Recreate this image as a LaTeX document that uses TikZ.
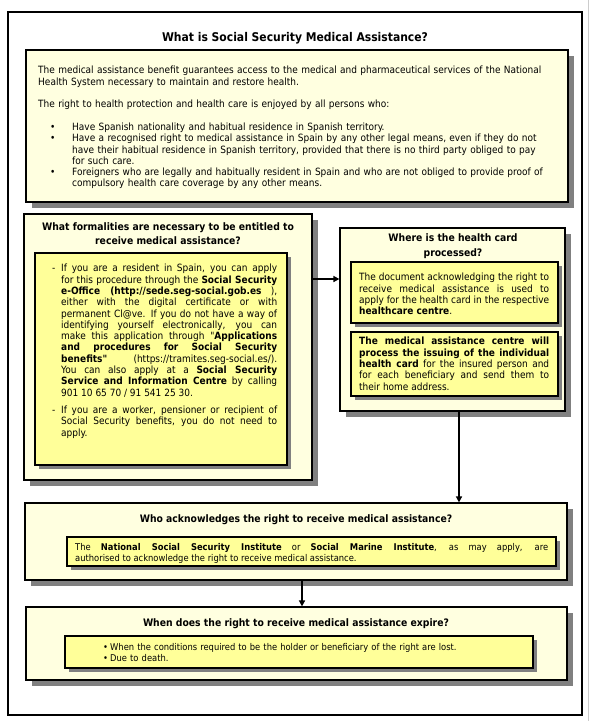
\documentclass[tikz,border=0pt]{standalone}
\usepackage{fontspec}
\setmainfont{DejaVu Sans Condensed}
\usetikzlibrary{arrows.meta,positioning,fit,shadows}
\definecolor{cream}{HTML}{FFFFE0}
\definecolor{lemon}{HTML}{FFFF99}
\definecolor{shade}{HTML}{808080}
\newcommand{\markhang}[2]{\hangindent=#1\hangafter=1\noindent\makebox[#1][l]{#2}}
\tikzset{
  outerbox/.style={rectangle, draw=black, fill=cream, line width=1.2pt,
    inner sep=0pt,
    drop shadow={shadow xshift=6pt, shadow yshift=-6pt, fill=shade, opacity=1}},
  innerbox/.style={rectangle, draw=black, fill=lemon, line width=1.2pt,
    inner sep=0pt,
    drop shadow={shadow xshift=4pt, shadow yshift=-4pt, fill=shade, opacity=1}},
  headtext/.style={font=\fontsize{10.3}{14.5}\selectfont\bfseries,
    align=center, inner sep=0pt},
  bodytext/.style={font=\fontsize{10}{11.3}\selectfont, inner sep=0pt,
    anchor=north west, text width=#1, align=justify},
  bodytext/.default=200pt,
  smalltext/.style={font=\fontsize{9.3}{11}\selectfont, inner sep=0pt,
    anchor=north west, text width=#1, align=justify},
  flowarrow/.style={-{Triangle[length=6pt,width=6pt]}, line width=1.8pt}
}

\begin{document}
\begin{tikzpicture}[x=1pt,y=-1pt]
  \useasboundingbox[fill=white] (0,0) rectangle (590,721);
  \draw[shade!40, line width=0.8pt] (588,0) -- (588,721);
  \draw[line width=1.3pt] (8,12) rectangle (582,715);

  \node[font=\fontsize{12}{14}\selectfont\bfseries] (maintitle) at (295,38)
    {What is Social Security Medical Assistance?};

  % intro
  \node[outerbox, fit={(26,50) (568,202)}] (intro) {};
  \node[bodytext=540pt, align=left] (introtext) at (38,66) {%
    \noindent The medical assistance benefit guarantees access to the medical
    and pharmaceutical services of the National\newline
    Health System necessary to maintain and restore health.\par
    \vspace{10.7pt}
    \noindent The right to health protection and health care is enjoyed by all
    persons who:\par
    \vspace{12pt}
    \markhang{34pt}{\hspace{12pt}•}Have Spanish nationality and habitual
    residence in Spanish territory.\par
    \markhang{34pt}{\hspace{12pt}•}Have a recognised right to medical
    assistance in Spain by any other legal means, even if they do not\newline
    have their habitual residence in Spanish territory, provided that there is
    no third party obliged to pay\newline
    for such care.\par
    \markhang{34pt}{\hspace{12pt}•}Foreigners who are legally and habitually
    resident in Spain and who are not obliged to provide proof of\newline
    compulsory health care coverage by any other means.\par};

  % formalities
  \node[outerbox, fit={(24,214) (312,480)}] (forms) {};
  \node[headtext] (formshead) at (168,233.5)
    {What formalities are necessary to be entitled to\\
     receive medical assistance?};
  \node[innerbox, fit={(35,253) (287,465)}] (formsin) {};
  \node[bodytext=225pt] (formstext) at (52,264) {%
    \markhang{9pt}{-}If you are a resident in Spain, you can apply\linebreak
    for this procedure through the \textbf{Social Security}\linebreak
    \textbf{e-Office (http://sede.seg-social.gob.es} ),\linebreak
    either with the digital certificate or with\linebreak
    permanent Cl@ve. If you do not have a way of\linebreak
    identifying yourself electronically, you can\linebreak
    make this application through \textquotedbl\textbf{Applications}\linebreak
    \textbf{and procedures for Social Security}\linebreak
    \textbf{benefits\textquotedbl} (https://tramites.seg-social.es/).\linebreak
    You can also apply at a \textbf{Social Security}\linebreak
    \textbf{Service and Information Centre} by calling\linebreak
    901 10 65 70 / 91 541 25 30.\par
    \vspace{6pt}
    \markhang{9pt}{-}If you are a worker, pensioner or recipient of\linebreak
    Social Security benefits, you do not need to\linebreak
    apply.\par};

  % health card
  \node[outerbox, fit={(340,228) (565,411)}] (card) {};
  \node[headtext] (cardhead) at (453,246)
    {Where is the health card\\processed?};
  \node[innerbox, fit={(351,262) (558,323)}] (cardone) {};
  \node[bodytext=190pt] (cardonetext) at (359,273) {%
    The document acknowledging the right to\linebreak
    receive medical assistance is used to\linebreak
    apply for the health card in the respective\linebreak
    \textbf{healthcare centre}.};
  \node[innerbox, fit={(351,332) (558,396)}] (cardtwo) {};
  \node[bodytext=190pt] (cardtwotext) at (359,337) {%
    \textbf{The medical assistance centre will}\linebreak
    \textbf{process the issuing of the individual}\linebreak
    \textbf{health card} for the insured person and\linebreak
    for each beneficiary and send them to\linebreak
    their home address.};

  % who
  \node[outerbox, fit={(25,503) (567,580)}] (who) {};
  \node[headtext] (whohead) at (296,520)
    {Who acknowledges the right to receive medical assistance?};
  \node[innerbox, fit={(67,537) (556,566)}] (whoin) {};
  \node[smalltext=473pt] (whotext) at (75,543) {%
    The \textbf{National Social Security Institute} or \textbf{Social Marine
    Institute}, as may apply, are\linebreak
    authorised to acknowledge the right to receive medical assistance.};

  % expiry
  \node[outerbox, fit={(26,607) (567,680)}] (expiry) {};
  \node[headtext] (expiryhead) at (296,624)
    {When does the right to receive medical assistance expire?};
  \node[innerbox, fit={(65,636) (533,668)}] (expiryin) {};
  \node[smalltext=420pt, align=left] (expirytext) at (103,643) {%
    \markhang{7pt}{•}When the conditions required to be the holder or
    beneficiary of the right are lost.\par
    \markhang{7pt}{•}Due to death.\par};

  % connectors
  \coordinate (formsrow) at (0,279);
  \coordinate (cardcol) at (459,0);
  \coordinate (whocol) at (302,0);
  \draw[flowarrow] (forms.east |- formsrow) -- (card.west |- formsrow);
  \draw[flowarrow] (cardcol |- card.south) -- (cardcol |- who.north);
  \draw[flowarrow] (whocol |- who.south) -- (whocol |- expiry.north);
\end{tikzpicture}
\end{document}
